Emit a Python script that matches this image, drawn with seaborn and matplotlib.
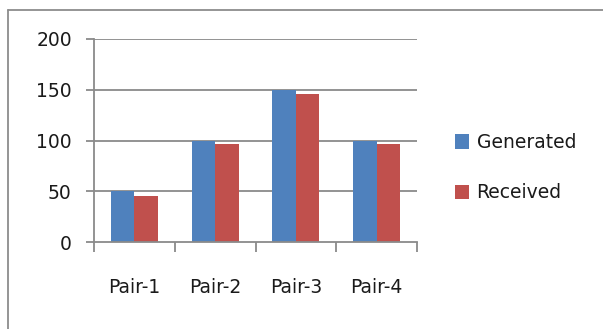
import matplotlib
matplotlib.use("Agg")
import matplotlib.pyplot as plt
from matplotlib.patches import Patch
from matplotlib.lines import Line2D
import seaborn as sns
import pandas as pd
import numpy as np

categories = ["Pair-1", "Pair-2", "Pair-3", "Pair-4"]
generated = [50, 100, 150, 100]
received = [45, 97, 146, 97]
series_names = ["Generated", "Received"]
colors = ["#4F81BD", "#C0504D"]
y_ticks = [0, 50, 100, 150, 200]

df = pd.DataFrame({
    "pair": categories * 2,
    "value": generated + received,
    "series": [series_names[0]] * len(categories) + [series_names[1]] * len(categories),
})

sns.set_theme(style="white")
plt.rcParams["font.family"] = ["DejaVu Sans"]

W, H = 603, 329
fig = plt.figure(figsize=(W / 100, H / 100), dpi=100)
fig.patch.set_facecolor("white")
ax = fig.add_axes([94 / W, 1 - 242 / H, (417 - 94) / W, (242 - 39) / H])

sns.barplot(data=df, x="pair", y="value", hue="series", palette=colors,
            width=0.58, gap=0, saturation=1, ax=ax, legend=False,
            edgecolor="none", linewidth=0)

grid_color = "#8a8a8a"
ax.set_ylim(0, 200)
ax.set_xlim(-0.5, len(categories) - 0.5)
ax.set_yticks(y_ticks)
ax.set_yticklabels([str(v) for v in y_ticks])
for v in y_ticks[1:]:
    ax.axhline(v, color=grid_color, lw=1.3, zorder=0)
ax.set_axisbelow(True)

for s in ["top", "right"]:
    ax.spines[s].set_visible(False)
for s in ["left", "bottom"]:
    ax.spines[s].set_color(grid_color)
    ax.spines[s].set_linewidth(1.3)

ax.set_xlabel("")
ax.set_ylabel("")
ax.set_xticks(np.arange(len(categories)))
ax.set_xticklabels(categories)
ax.tick_params(axis="x", which="major", bottom=True, length=0, pad=26,
               labelsize=13.5, colors="#1a1a1a")
ax.set_xticks(np.arange(len(categories) + 1) - 0.5, minor=True)
ax.tick_params(axis="x", which="minor", bottom=True, length=7, width=1.3,
               color=grid_color, direction="out")
ax.tick_params(axis="y", left=True, length=6, width=1.3, color=grid_color,
               direction="out", pad=10, labelsize=13.5, labelcolor="#1a1a1a")

handles = [Patch(facecolor=c, edgecolor="none") for c in colors]
fig.legend(handles, series_names, loc="upper left",
           bbox_to_anchor=(455 / W, 1 - 133 / H), frameon=False,
           fontsize=13.5, handlelength=0.75, handleheight=0.85,
           handletextpad=0.4, labelspacing=1.68, labelcolor="#1a1a1a",
           borderaxespad=0, borderpad=0)

# chart-area frame: top and left edges
top = 1 - 10 / H
left = 8 / W
frame_kw = dict(transform=fig.transFigure, color="#8c8c8c", lw=1.3)
fig.add_artist(Line2D([left, 1.0], [top, top], **frame_kw))
fig.add_artist(Line2D([left, left], [0.0, top], **frame_kw))

fig.savefig("out.png", dpi=100, facecolor="white")
